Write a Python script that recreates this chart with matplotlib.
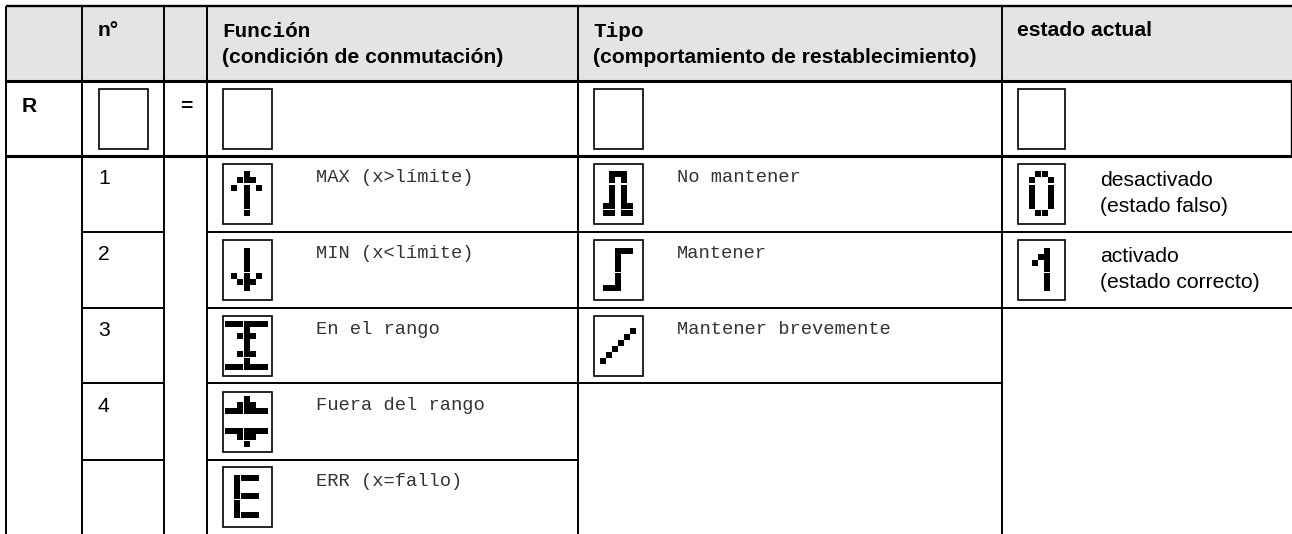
import matplotlib
matplotlib.use('Agg')
import matplotlib.pyplot as plt
from matplotlib.patches import Rectangle

W, H = 1292, 534
SANS = 'Liberation Sans'
MONO = 'Liberation Mono'
CELL = 6.0
GAP = 1.3
TXT = 15.2
MONO_TXT = 13.5

# table grid
col_x = [6, 82, 164, 206.5, 577.5, 1001.5, 1292]
row_y = [6, 81, 156, 232, 308, 383, 460, 533.5]

# icons as dot matrix rows, '-' is a thin white gap between rows
ICON_UP = ['...#...', '..###..', '-', '.#.#.#.', '...#...', '...#...', '...#...', '-', '...#...']
ICON_DOWN = ['...#...', '...#...', '...#...', '...#...', '-', '.#.#.#.', '..###..', '...#...']
ICON_IN = ['#######', '...#...', '..###..', '...#...', '...#...', '..###..', '-', '...#...', '#######']
ICON_OUT = ['...#...', '..###..', '#######', '.......', '-', '.......', '#######', '..###..', '-', '...#...']
ICON_ERR = ['####', '#...', '#...', '####', '-', '#...', '#...', '####']
ICON_NOHOLD = ['..###..', '..#.#..', '-', '..#.#..', '..#.#..', '..#.#..', '.##.##.', '-', '.##.##.']
ICON_HOLD = ['..###', '..#..', '..#..', '..#..', '-', '..#..', '..#..', '###..']
ICON_BRIEF = ['.....#', '....#.', '...#..', '..#...', '.#....', '#.....']
ICON_ZERO = ['.##.', '#..#', '-', '#..#', '#..#', '#..#', '#..#', '-', '.##.']
ICON_ONE = ['...#.', '..##.', '.#.#.', '...#.', '-', '...#.', '...#.', '...#.']

func_labels = ['MAX (x>límite)', 'MIN (x<límite)', 'En el rango', 'Fuera del rango', 'ERR (x=fallo)']
func_icons = [ICON_UP, ICON_DOWN, ICON_IN, ICON_OUT, ICON_ERR]
func_gaps = [3, 3, 3, 3, 1]
tipo_labels = ['No mantener', 'Mantener', 'Mantener brevemente']
tipo_icons = [ICON_NOHOLD, ICON_HOLD, ICON_BRIEF]
estado_labels = ['desactivado', 'activado']
estado_notes = ['(estado falso)', '(estado correcto)']
estado_icons = [ICON_ZERO, ICON_ONE]
estado_gaps = [2, None]
numbers = ['1', '2', '3', '4']

fig = plt.figure(figsize=(W / 100, H / 100), dpi=100)
ax = fig.add_axes([0, 0, 1, 1])
ax.set_xlim(0, W)
ax.set_ylim(H, 0)
ax.axis('off')


def hline(y, x0, x1, lw=1.4):
    ax.plot([x0, x1], [y, y], color='black', lw=lw, solid_capstyle='butt')


def vline(x, y0, y1, lw=1.4):
    ax.plot([x, x], [y0, y1], color='black', lw=lw, solid_capstyle='butt')


def box(x, y, w=49, h=60):
    ax.add_patch(Rectangle((x, y), w, h, fc='white', ec='black', lw=1.2, zorder=3))


def draw_icon(rows, cx, cy, col_gap=None):
    # centre the matrix in the box
    n = max(len(r) for r in rows)
    height = sum(GAP if r == '-' else CELL for r in rows)
    width = n * CELL + (1 if col_gap else 0)
    y = cy - height / 2
    for r in rows:
        if r == '-':
            y += GAP
            continue
        for i, c in enumerate(r):
            if c == '#':
                x = cx - width / 2 + i * CELL
                if col_gap and i >= col_gap:
                    x += 1
                ax.add_patch(Rectangle((x, y), CELL, CELL, fc='black', ec='none', zorder=4))
        y += CELL


# header background
ax.add_patch(Rectangle((col_x[0], row_y[0]), W - col_x[0], row_y[1] - row_y[0], fc='#e4e4e4', ec='none'))

hline(row_y[0], col_x[0], W, 1.7)
hline(row_y[1], col_x[0], W, 2.2)
hline(row_y[2], col_x[0], W, 2.2)
vline(1291, row_y[1], row_y[2], 1.0)
for x in col_x[:6]:
    vline(x, row_y[0], row_y[-1])
for y in row_y[3:7]:
    hline(y, col_x[1], col_x[2])
    hline(y, col_x[3], col_x[4])
for y in row_y[3:6]:
    hline(y, col_x[4], col_x[5])
for y in row_y[3:5]:
    hline(y, col_x[5], W)

# header text
bold = dict(family=SANS, fontweight='bold', fontsize=TXT, va='baseline')
ax.text(98, 36, 'n°', **bold)
ax.text(222, 63, '(condición de conmutación)', **bold)
ax.text(593, 63, '(comportamiento de restablecimiento)', **bold)
ax.text(1017, 36, 'estado actual', **bold)
mono_bold = dict(family=MONO, fontweight='bold', fontsize=15.1, va='baseline')
ax.text(222, 37, 'Función', **mono_bold)
ax.text(593, 37, 'Tipo', **mono_bold)
ax.text(22, 112, 'R', **bold)
ax.text(180, 112, '=', **bold)

# R row boxes
box(98.5, 88.5)
box(222.5, 88.5)
box(593.5, 88.5)
box(1017.5, 88.5, w=47.5)

# rows
rtop = [163.5, 239.5, 315.5, 391.5, 466.5]
for i, label in enumerate(numbers):
    ax.text(98, rtop[i] + 21, label, family=SANS, fontsize=TXT)
for i, (label, icon) in enumerate(zip(func_labels, func_icons)):
    box(222.5, rtop[i])
    draw_icon(icon, 246.5, rtop[i] + 30, col_gap=func_gaps[i])
    ax.text(316, rtop[i] + 19, label, family=MONO, fontsize=MONO_TXT, color='#333333')
for i, (label, icon) in enumerate(zip(tipo_labels, tipo_icons)):
    box(593.5, rtop[i])
    draw_icon(icon, 618, rtop[i] + 30)
    ax.text(677, rtop[i] + 19, label, family=MONO, fontsize=MONO_TXT, color='#333333')
for i, (label, icon) in enumerate(zip(estado_labels, estado_icons)):
    box(1017.5, rtop[i], w=47.5)
    draw_icon(icon, 1041, rtop[i] + 30, col_gap=estado_gaps[i])
    ax.text(1100, rtop[i] + 22, label, family=SANS, fontsize=TXT)
    ax.text(1100, rtop[i] + 48, estado_notes[i], family=SANS, fontsize=TXT)

fig.savefig('out.png', dpi=100)
